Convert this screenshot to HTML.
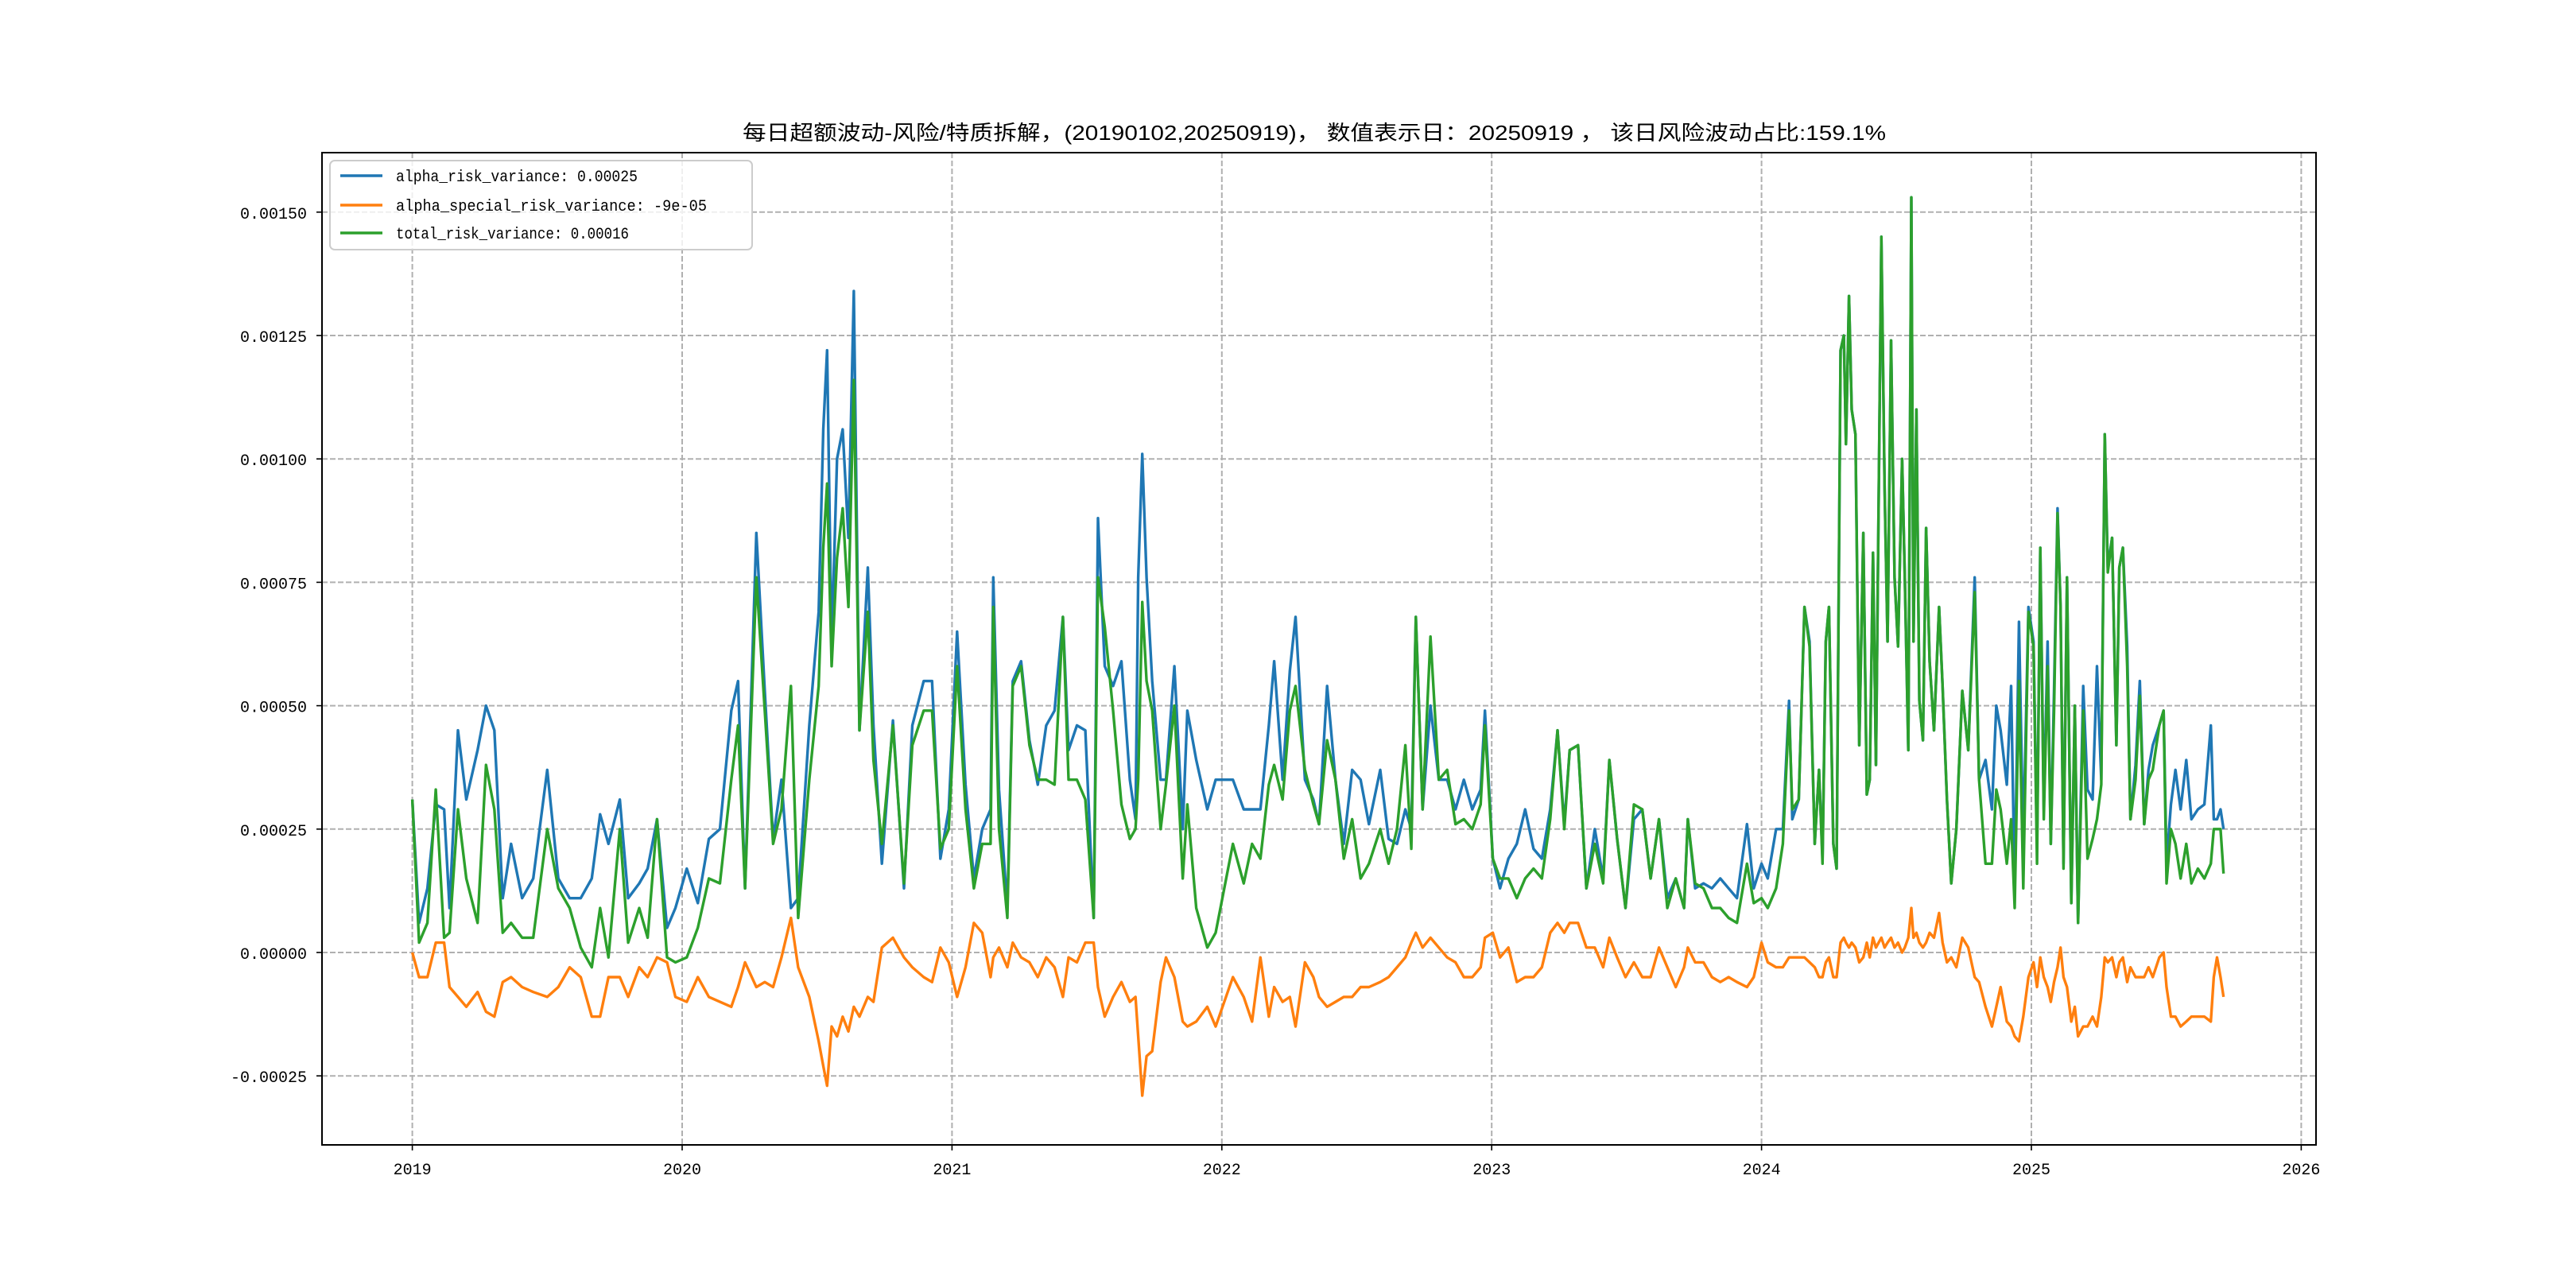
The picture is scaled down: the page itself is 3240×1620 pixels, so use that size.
<!DOCTYPE html>
<html><head><meta charset="utf-8">
<style>
html,body{margin:0;padding:0;background:#fff;}
svg{display:block;}
</style></head>
<body>
<svg id="chart" width="3240" height="1620" viewBox="0 0 3240 1620" xmlns="http://www.w3.org/2000/svg"></svg>
<script>
// ---- data (time in years since 2019-01-01, values in units of 1e-5) ----
const tYears = [0,.025,.056,.087,.118,.138,.169,.2,.242,.273,.304,.335,.366,.407,.448,.5,.541,.583,.624,.665,.696,.727,.769,.8,.841,.872,.907,.944,.975,1.017,1.058,1.099,1.14,1.182,1.207,1.233,1.275,1.306,1.337,1.368,1.403,1.43,1.471,1.506,1.523,1.537,1.554,1.574,1.595,1.616,1.636,1.657,1.688,1.709,1.74,1.781,1.822,1.853,1.895,1.926,1.957,1.988,
2.019,2.05,2.081,2.112,2.143,2.153,2.174,2.205,2.225,2.256,2.287,2.318,2.349,2.38,2.411,2.432,2.463,2.494,2.525,2.541,2.566,2.597,2.628,2.659,2.68,2.69,2.705,2.721,2.742,2.773,2.793,2.824,2.855,2.872,2.905,2.946,2.977,
3.041,3.081,3.112,3.143,3.174,3.194,3.225,3.252,3.273,3.308,3.339,3.36,3.39,3.421,3.452,3.483,3.514,3.545,3.587,3.618,3.649,3.68,3.702,3.719,3.744,3.773,3.804,3.835,3.866,3.897,3.928,3.959,3.975,4.004,4.031,4.062,4.093,4.124,4.155,4.186,4.217,4.244,4.269,4.289,4.32,4.351,4.382,4.413,4.436,4.465,4.496,4.527,4.558,4.589,4.62,4.651,4.682,4.713,4.727,4.754,4.785,4.816,4.847,4.878,4.909,4.946,4.971,
5.0,5.023,5.054,5.079,5.102,5.114,5.138,5.159,5.178,5.197,5.213,5.226,5.238,5.25,5.266,5.278,5.293,5.305,5.313,5.324,5.334,5.348,5.362,5.377,5.39,5.401,5.413,5.424,5.444,5.456,5.467,5.48,5.493,5.506,5.521,5.531,5.544,5.555,5.563,5.574,5.585,5.598,5.61,5.623,5.639,5.658,5.671,5.687,5.703,5.722,5.744,5.766,5.79,5.806,5.83,5.854,5.87,5.886,5.909,5.925,5.938,5.954,5.97,5.989,6.008,6.021,6.033,6.046,6.06,6.072,6.084,6.097,6.108,6.119,6.132,6.148,6.161,6.173,6.192,6.208,6.227,6.243,6.259,6.272,6.283,6.299,6.315,6.326,6.339,6.355,6.367,6.386,6.402,6.418,6.434,6.45,6.474,6.49,6.501,6.517,6.534,6.553,6.574,6.593,6.617,6.641,6.665,6.676,6.688,6.701,6.712];
const alphaRisk = [31,6,13,30,29,9,45,31,41,50,45,11,22,11,15,37,15,11,11,15,28,22,31,11,14,17,27,5,9,17,10,23,25,49,55,13,85,53,23,35,9,11,46,69,106,122,62,100,106,84,134,45,78,46,18,47,13,46,55,55,19,29,
65,34,15,25,29,76,33,9,55,59,43,34,46,49,68,41,46,45,7,88,58,54,59,35,27,76,101,76,55,35,35,58,25,49,39,29,35,
35,29,29,29,46,59,35,57,68,35,31,26,54,35,22,37,35,26,37,23,22,29,25,68,29,50,35,35,29,35,29,33,49,19,13,19,22,29,21,19,29,45,26,41,42,13,25,15,39,23,9,27,29,15,27,11,15,9,27,13,14,13,15,13,11,26,13,
18,15,25,25,51,27,31,70,63,22,37,19,63,70,22,17,122,125,103,133,110,105,42,85,32,35,81,38,145,94,63,124,76,62,100,76,41,153,63,110,51,43,86,59,45,70,54,31,14,25,53,41,76,35,39,29,50,45,34,54,13,67,22,70,63,21,82,29,63,22,53,90,70,18,76,10,50,6,54,33,31,58,35,105,78,84,42,78,82,62,27,38,55,26,37,42,46,49,18,30,37,29,39,27,29,30,46,27,27,29,25];
const alphaSpecial = [0,-5,-5,2,2,-7,-9,-11,-8,-12,-13,-6,-5,-7,-8,-9,-7,-3,-5,-13,-13,-5,-5,-9,-3,-5,-1,-2,-9,-10,-5,-9,-10,-11,-7,-2,-7,-6,-7,-1,7,-3,-9,-18,-23,-27,-15,-17,-13,-16,-11,-13,-9,-10,1,3,-1,-3,-5,-6,1,-2,
-9,-3,6,4,-5,-1,1,-3,2,-1,-2,-5,-1,-3,-9,-1,-2,2,2,-7,-13,-9,-6,-10,-9,-17,-29,-21,-20,-6,-1,-5,-14,-15,-14,-11,-15,
-5,-9,-14,-1,-13,-7,-10,-9,-15,-2,-5,-9,-11,-10,-9,-9,-7,-7,-6,-5,-3,-1,2,4,1,3,1,-1,-2,-5,-5,-3,3,4,-1,1,-6,-5,-5,-3,4,6,4,6,6,1,1,-3,3,-1,-5,-2,-5,-5,1,-3,-7,-3,1,-2,-2,-5,-6,-5,-6,-7,-5,
2,-2,-3,-3,-1,-1,-1,-1,-2,-3,-5,-5,-2,-1,-5,-5,2,3,2,1,2,1,-2,-1,2,-1,3,1,3,1,2,3,1,2,0,1,3,9,3,4,2,1,2,4,3,8,2,-2,-1,-3,3,1,-5,-6,-11,-15,-11,-7,-14,-15,-17,-18,-13,-5,-2,-7,-1,-5,-7,-10,-6,-3,1,-5,-7,-14,-11,-17,-15,-15,-13,-15,-9,-1,-2,-1,-5,-2,-1,-6,-3,-5,-5,-5,-3,-5,-1,0,-7,-13,-13,-15,-14,-13,-13,-13,-14,-5,-1,-5,-9];
const totalRisk = [31,2,6,33,3,4,29,15,6,38,29,4,6,3,3,25,13,9,1,-3,9,-1,25,2,9,3,27,-1,-2,-1,5,15,14,35,46,13,76,49,22,29,54,7,35,54,82,95,58,80,90,70,116,45,69,39,22,46,14,42,49,49,21,25,
58,29,13,22,22,70,25,7,54,58,42,35,35,34,68,35,35,31,7,76,66,49,30,23,25,35,71,55,49,25,34,50,15,30,9,1,4,
22,14,22,19,34,38,31,49,54,37,30,26,43,35,19,27,15,18,25,18,25,42,21,68,29,64,35,37,26,27,25,30,46,19,15,15,11,15,17,15,27,45,25,41,42,13,22,14,39,23,9,30,29,15,27,9,15,9,27,14,13,9,9,7,6,18,10,
11,9,13,22,49,29,31,70,62,22,37,18,63,70,22,17,122,125,103,133,110,105,42,85,32,35,81,38,145,94,63,124,76,62,100,76,41,153,63,110,51,43,86,59,45,70,54,31,14,25,53,41,73,35,18,18,33,29,18,27,9,55,13,69,62,18,82,27,58,22,49,89,70,17,76,10,50,6,49,19,23,27,34,105,77,84,42,78,82,58,27,35,52,26,35,37,46,49,14,25,22,15,22,14,17,15,18,25,25,25,16];
const yTickValues = [-25,0,25,50,75,100,125,150];
const yTickLabels = ["-0.00025","0.00000","0.00025","0.00050","0.00075","0.00100","0.00125","0.00150"];
const xTickLabels = ["2019","2020","2021","2022","2023","2024","2025","2026"];
const seriesNames = ["alpha_risk_variance: 0.00025","alpha_special_risk_variance: -9e-05","total_risk_variance: 0.00016"];

// ---- layout ----
const NS = "http://www.w3.org/2000/svg";
const svg = document.getElementById("chart");
const L = 405, R = 2913, T = 192, B = 1440;
const X0 = 518.6, PX_PER_YEAR = 339.4;
const Y0 = 1198, PX_PER_UNIT = 155.2 / 25;
function xScale(t){ return X0 + t * PX_PER_YEAR; }
function yScale(v){ return Y0 - v * PX_PER_UNIT; }
function mk(tag, attrs){ const e = document.createElementNS(NS, tag); for (const k in attrs) e.setAttribute(k, attrs[k]); svg.appendChild(e); return e; }

const bg = mk("rect", {x:0, y:0, width:3240, height:1620, fill:"#fff"});



const MONO = '"Liberation Mono", "Noto Sans CJK SC", monospace';
yTickValues.forEach((v, i) => {
  const y = yScale(v);
  const g = mk("line", {x1:L, x2:R, y1:y, y2:y, stroke:"#b0b0b0", "stroke-width":2, "stroke-dasharray":"7,3"});
  
  
  const tk = mk("line", {x1:L-7, x2:L, y1:y, y2:y, stroke:"#000", "stroke-width":1.6});
  
  
  const lb = mk("text", {x:386, y:y+8, "text-anchor":"end", "font-family":MONO, "font-size":20, fill:"#000"});
  lb.textContent = yTickLabels[i];
  
  
});
xTickLabels.forEach((s, i) => {
  const x = xScale(i);
  const g = mk("line", {x1:x, x2:x, y1:T, y2:B, stroke:"#b0b0b0", "stroke-width":2, "stroke-dasharray":"7,3"});
  
  
  const tk = mk("line", {x1:x, x2:x, y1:B, y2:B+7, stroke:"#000", "stroke-width":1.6});
  
  
  const lb = mk("text", {x:x, y:1477, "text-anchor":"middle", "font-family":MONO, "font-size":20, fill:"#000"});
  lb.textContent = s;
  
  
});

const series = [
  {vals: alphaRisk, color:"#1f77b4", name:"alpha-risk-variance-line"},
  {vals: alphaSpecial, color:"#ff7f0e", name:"alpha-special-risk-variance-line"},
  {vals: totalRisk, color:"#2ca02c", name:"total-risk-variance-line"}
];
series.forEach(s => {
  const pts = tYears.map((t, i) => xScale(t).toFixed(1) + "," + yScale(s.vals[i]).toFixed(1)).join(" ");
  const pl = mk("polyline", {points:pts, fill:"none", stroke:s.color, "stroke-width":3.4, "stroke-linejoin":"round"});
  
  
});

const frame = mk("rect", {x:L, y:T, width:R-L, height:B-T, fill:"none", stroke:"#000", "stroke-width":2});



const title = mk("text", {x:1653, y:176, "text-anchor":"middle", "font-family":'"Liberation Sans", "Noto Sans CJK SC", sans-serif', "font-size":26, fill:"#000", textLength:1438, lengthAdjust:"spacingAndGlyphs"});
title.textContent = "每日超额波动-风险/特质拆解，(20190102,20250919)， 数值表示日：20250919 ， 该日风险波动占比:159.1%";



const lgBox = mk("rect", {x:415, y:202, width:531, height:112, rx:6, fill:"#fff", "fill-opacity":0.8, stroke:"#cccccc", "stroke-width":2});


const lgY = [221, 258, 293];
const lgW = [304, 391, 293];
seriesNames.forEach((n, i) => {
  const ln = mk("line", {x1:428, x2:481, y1:lgY[i], y2:lgY[i], stroke:series[i].color, "stroke-width":3.4});
  
  
  const tx = mk("text", {x:498, y:lgY[i]+7, "font-family":MONO, "font-size":20, fill:"#000", textLength:lgW[i], lengthAdjust:"spacingAndGlyphs"});
  tx.textContent = n;
  
  
});
</script>
</body></html>
